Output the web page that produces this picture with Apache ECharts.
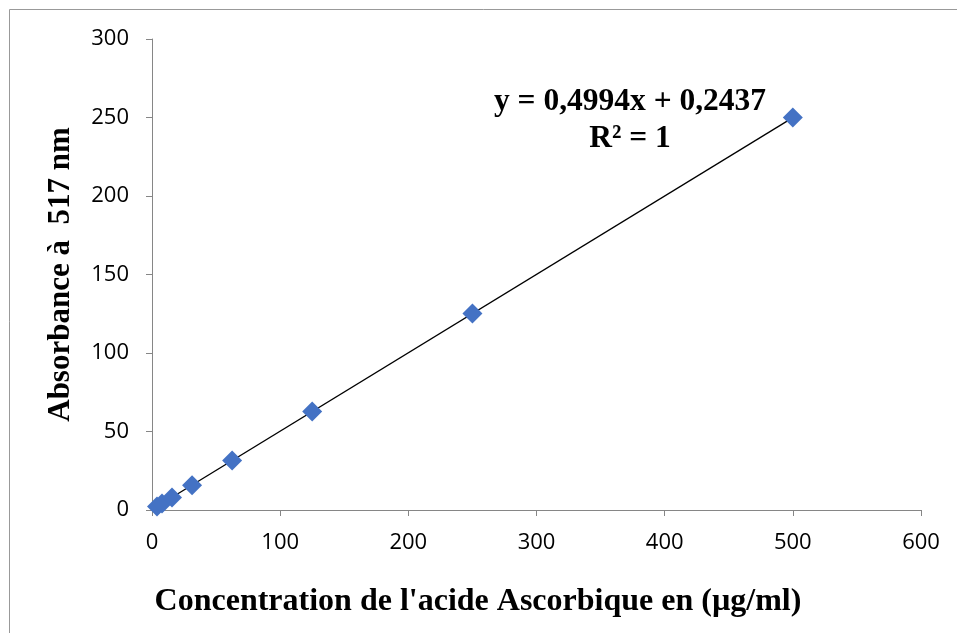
<!DOCTYPE html>
<html><head><meta charset="utf-8">
<script src="https://cdn.jsdelivr.net/npm/echarts@6/dist/echarts.min.js"></script>
<style>html,body{margin:0;padding:0;background:#fff}#c{width:957px;height:633px}</style>
</head><body><div id="c"></div>
<script>
const concentrations = [3.90625, 7.8125, 15.625, 31.25, 62.5, 125, 250, 500];
const absorbances = [2.2, 4.1, 8.0, 15.8, 31.5, 62.7, 125.1, 250.0];
const trendX = [3.90625, 500];
const trendY = [2.19, 249.94];
const xTicks = {min: 0, max: 600, interval: 100};
const yTicks = {min: 0, max: 300, interval: 50};
const xTitle = "Concentration de l'acide Ascorbique en (µg/ml)";
const yTitle = "Absorbance à  517 nm";
const eqLines = ["y = 0,4994x + 0,2437", "R² = 1"];

const chart = echarts.init(document.getElementById('c'));
const axisGray = '#868686';
chart.setOption({
  animation: false,
  backgroundColor: '#fff',
  grid: {left: 152, right: 36, top: 39, bottom: 123},
  xAxis: {
    type: 'value', min: xTicks.min, max: xTicks.max, interval: xTicks.interval,
    splitLine: {show: false},
    axisLine: {show: true, lineStyle: {color: axisGray, width: 1}},
    axisTick: {show: true, length: 6, lineStyle: {color: axisGray}},
    axisLabel: {color: '#000', fontSize: 22, fontFamily: 'Open Sans', margin: 22}
  },
  yAxis: {
    type: 'value', min: yTicks.min, max: yTicks.max, interval: yTicks.interval,
    splitLine: {show: false},
    axisLine: {show: true, lineStyle: {color: axisGray, width: 1}},
    axisTick: {show: true, length: 6, lineStyle: {color: axisGray}},
    axisLabel: {color: '#000', fontSize: 22, fontFamily: 'Open Sans', margin: 23},
    name: yTitle, nameLocation: 'middle', nameGap: 76,
    nameTextStyle: {fontFamily: 'Liberation Serif', fontWeight: 'bold', fontSize: 31, color: '#000'}
  },
  graphic: [
    {type: 'rect', shape: {x: 9.5, y: 9.5, width: 1000, height: 1000}, style: {fill: 'none', stroke: '#999', lineWidth: 1}, silent: true, z: -1},
    {type: 'text', x: 478, y: 602, style: {text: xTitle, textAlign: 'center', textVerticalAlign: 'middle', font: 'bold 32px "Liberation Serif"', fill: '#000'}},
    {type: 'text', x: 630, y: 102, style: {text: eqLines[0], textAlign: 'center', textVerticalAlign: 'middle', font: 'bold 31.5px "Liberation Serif"', fill: '#000'}},
    {type: 'text', x: 630, y: 139, style: {text: eqLines[1], textAlign: 'center', textVerticalAlign: 'middle', font: 'bold 31.5px "Liberation Serif"', fill: '#000'}}
  ],
  series: [
    {
      type: 'line', data: trendX.map((x, i) => [x, trendY[i]]),
      showSymbol: false, symbol: 'none', lineStyle: {color: '#000', width: 1.3}, z: 2
    },
    {
      type: 'scatter', data: concentrations.map((x, i) => [x, absorbances[i]]),
      symbol: 'diamond', symbolSize: 20, itemStyle: {color: '#4472C4', opacity: 1}, z: 3
    }
  ]
});
</script></body></html>
